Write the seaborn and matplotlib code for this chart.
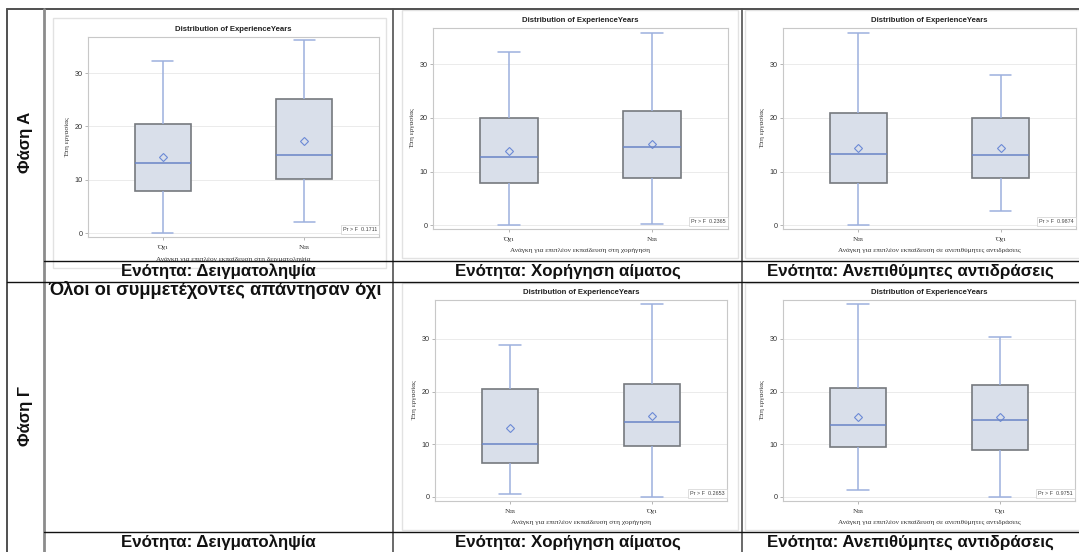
import matplotlib
matplotlib.use("Agg")
import matplotlib.pyplot as plt
from matplotlib.lines import Line2D
from matplotlib.patches import Rectangle
import seaborn as sns
import pandas as pd

# ------------------------------------------------------------------
# values (years of experience per answer)
# order of panels: Φάση Α (δειγματοληψία, χορήγηση, αντιδράσεις), Φάση Γ (χορήγηση, αντιδράσεις)
categories = [["Όχι", "Ναι"], ["Όχι", "Ναι"], ["Ναι", "Όχι"], ["Ναι", "Όχι"], ["Ναι", "Όχι"]]
whisker_low = [[0.0, 2.1], [0.0, 0.3], [0.0, 2.6], [0.6, 0.0], [1.2, 0.0]]
q1 = [[7.9, 10.1], [7.8, 8.8], [7.8, 8.8], [6.5, 9.6], [9.4, 8.9]]
medians = [[13.1, 14.6], [12.8, 14.6], [13.3, 13.0], [10.1, 14.3], [13.6, 14.6]]
q3 = [[20.4, 25.2], [20.0, 21.3], [21.0, 20.0], [20.5, 21.4], [20.7, 21.3]]
whisker_high = [[32.3, 36.1], [32.3, 35.9], [35.9, 28.0], [28.8, 36.6], [36.6, 30.3]]
means = [[14.2, 17.2], [13.8, 15.1], [14.4, 14.4], [13.1, 15.4], [15.2, 15.2]]
p_values = ["0.1711", "0.2365", "0.9874", "0.2653", "0.9751"]
x_titles = ["Ανάγκη για επιπλέον εκπαίδευση στη δειγματοληψία",
            "Ανάγκη για επιπλέον εκπαίδευση στη χορήγηση",
            "Ανάγκη για επιπλέον εκπαίδευση σε ανεπιθύμητες αντιδράσεις",
            "Ανάγκη για επιπλέον εκπαίδευση στη χορήγηση",
            "Ανάγκη για επιπλέον εκπαίδευση σε ανεπιθύμητες αντιδράσεις"]
y_title = "Έτη εργασίας"
plot_title = "Distribution of ExperienceYears"
row_labels = ["Φάση Α", "Φάση Γ"]
col_captions = ["Ενότητα: Δειγματοληψία", "Ενότητα: Χορήγηση αίματος", "Ενότητα: Ανεπιθύμητες αντιδράσεις"]
empty_note = "Όλοι οι συμμετέχοντες απάντησαν όχι"

# long table: the five read values per box (min, q1, median, q3, max)
rows = []
for p in range(len(categories)):
    for j, cat in enumerate(categories[p]):
        for v in (whisker_low[p][j], q1[p][j], medians[p][j], q3[p][j], whisker_high[p][j]):
            rows.append({"panel": p, "group": cat, "years": v})
box_df = pd.DataFrame(rows)

# ------------------------------------------------------------------
# layout (pixels in the 1079x552 picture)
W, H = 1079, 552
axes_px = [(88, 37, 379, 237), (433, 28, 728, 229), (783, 28, 1076, 229),
           (435, 300, 727, 501), (783, 300, 1075, 501)]
frames_px = [(53, 18, 386, 268), (402, 10, 738, 258), (745, 10, 1090, 258),
             (402, 283, 738, 530), (745, 283, 1090, 530)]
ylims = [(-0.75, 36.75), (-0.7, 36.75), (-0.7, 36.75), (-0.8, 37.4), (-0.8, 37.4)]

BOX_FILL = "#d9dfea"
BOX_EDGE = "#76797e"
WHISK_C = "#9cb0de"
MEDIAN_C = "#6a84c6"
MEAN_C = "#6c8ad6"
GRID_C = "#ebebeb"
SPINE_C = "#c8c8c8"

sns.set_theme(style="white")
plt.rcParams["font.family"] = ["Liberation Sans", "DejaVu Sans"]


def rect(x0, y0, x1, y1):
    return [x0 / W, 1 - y1 / H, (x1 - x0) / W, (y1 - y0) / H]


def fx(x):
    return x / W


def fy(y):
    return 1 - y / H


fig = plt.figure(figsize=(W / 100, H / 100), dpi=100)

# light SAS graph borders
for (x0, y0, x1, y1) in frames_px:
    fig.add_artist(Rectangle((fx(x0), fy(y1)), fx(x1) - fx(x0), fy(y0) - fy(y1),
                             transform=fig.transFigure, fill=False,
                             edgecolor="#e2e2e2", linewidth=1.0, zorder=0))

for i in range(len(categories)):
    ax = fig.add_axes(rect(*axes_px[i]))
    d = box_df[box_df["panel"] == i]
    sns.boxplot(data=d, x="group", y="years", order=categories[i], ax=ax,
                whis=(0, 100), width=0.4, color=BOX_FILL, linecolor=BOX_EDGE,
                linewidth=1.2, saturation=1, showfliers=False,
                medianprops=dict(color=MEDIAN_C, linewidth=1.1),
                whiskerprops=dict(color=WHISK_C, linewidth=1.1),
                capprops=dict(color=WHISK_C, linewidth=1.1),
                capwidths=0.15)
    sns.pointplot(x=categories[i], y=means[i], order=categories[i], ax=ax,
                  linestyle="none", markers="D", color=MEAN_C, errorbar=None,
                  markersize=4, markeredgewidth=0.8, markerfacecolor="none")

    ax.set_xlim(-0.53, 1.53)
    ax.set_ylim(*ylims[i])
    ax.set_yticks([0, 10, 20, 30])
    ax.yaxis.grid(True, color=GRID_C, linewidth=0.7)
    ax.set_axisbelow(True)
    for s in ax.spines.values():
        s.set_color(SPINE_C)
        s.set_linewidth(0.8)
    ax.tick_params(axis="both", length=2, width=0.5, color="#999999", pad=2,
                   labelsize=5.2, labelcolor="#333333")
    ax.tick_params(axis="x", pad=4)
    ax.tick_params(axis="both", which="both", bottom=True, left=True)
    ax.set_xticks(range(len(categories[i])))
    ax.set_xticklabels(categories[i], family="Liberation Serif", fontsize=5.2)
    ax.set_xlabel(x_titles[i], family="Liberation Serif", fontsize=5.2, color="#333333",
                  labelpad=5 if i == 0 else 4)
    ax.set_ylabel(y_title, family="Liberation Serif", fontsize=5.2, color="#333333", labelpad=3)
    ax.set_title(plot_title, fontsize=5.6, fontweight="bold", color="#222222", pad=4)
    ax.text(0.993, 0.025, "Pr > F  " + p_values[i], transform=ax.transAxes,
            ha="right", va="bottom", fontsize=3.9, color="#444444",
            bbox=dict(boxstyle="square,pad=0.35", facecolor="white",
                      edgecolor="#d0d0d0", linewidth=0.5))

# table lines
dark = "#505050"
lines = [
    ((7, 9), (1079, 9), dark, 1.4),
    ((7, 9), (7, 552), dark, 1.4),
    ((44, 9), (44, 552), "#8c8c8c", 2.0),
    ((393, 9), (393, 552), dark, 1.2),
    ((742, 9), (742, 552), dark, 1.2),
    ((44, 260.5), (1079, 260.5), "#111111", 1.0),
    ((7, 282), (1079, 282), "#111111", 1.0),
    ((44, 532), (1079, 532), "#111111", 1.0),
]
for (x0, y0), (x1, y1), c, lw in lines:
    fig.add_artist(Line2D([fx(x0), fx(x1)], [fy(y0), fy(y1)],
                          transform=fig.transFigure, color=c, linewidth=lw, zorder=5))

# captions
col_centers = [218.5, 567.5, 910.5]
for cx, cap in zip(col_centers, col_captions):
    fig.text(fx(cx), fy(271.5), cap, ha="center", va="center",
             fontsize=12.2, fontweight="bold", color="#111111")
    fig.text(fx(cx), fy(542.5), cap, ha="center", va="center",
             fontsize=12.2, fontweight="bold", color="#111111")

fig.text(fx(25.5), fy(142), row_labels[0], rotation=90, ha="center", va="center",
         fontsize=12, fontweight="bold", color="#111111")
fig.text(fx(25.5), fy(416), row_labels[1], rotation=90, ha="center", va="center",
         fontsize=12, fontweight="bold", color="#111111")
fig.text(fx(48), fy(290), empty_note, ha="left", va="center",
         fontsize=13.2, fontweight="bold", color="#111111")

fig.savefig("out.png", dpi=100)
